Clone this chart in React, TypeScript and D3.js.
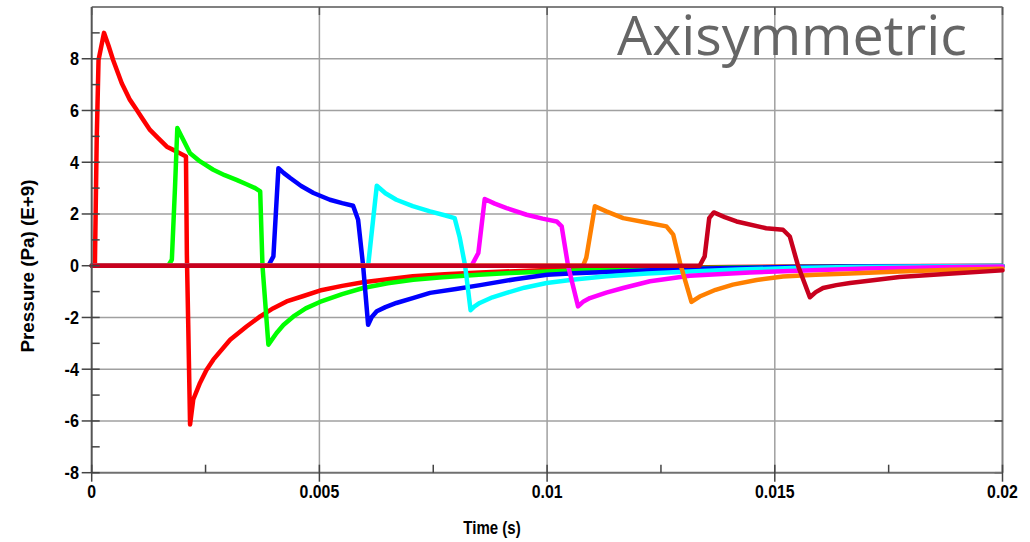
import React from "react";
import * as d3 from "d3";

const W = 1030;
const H = 542;

// Series data: time (s) and pressure (E+9 Pa)
const redT = [0, 0.00007, 0.00011, 0.00015, 0.00027, 0.00037, 0.00047, 0.00066, 0.00084, 0.00099, 0.00113, 0.00128, 0.00146, 0.00165, 0.00187, 0.00207, 0.00209, 0.00212, 0.00216, 0.00223, 0.00238, 0.00252, 0.00267, 0.00304, 0.0034, 0.0037, 0.00399, 0.00428, 0.00465, 0.00501, 0.0055, 0.00596, 0.0065, 0.00705, 0.00775, 0.00853, 0.0093, 0.01, 0.011, 0.012, 0.013, 0.014, 0.0155, 0.017, 0.0185, 0.02];
const redV = [0, 0, 4.86, 7.95, 9.0, 8.5, 7.95, 7.05, 6.41, 6.02, 5.64, 5.25, 4.93, 4.6, 4.41, 4.22, 0.4, -2.3, -6.14, -5.17, -4.52, -4.03, -3.63, -2.86, -2.35, -1.96, -1.64, -1.38, -1.17, -0.96, -0.78, -0.64, -0.52, -0.41, -0.33, -0.26, -0.21, -0.17, -0.13, -0.1, -0.07, -0.05, -0.03, -0.02, -0.015, -0.01];

const greenT = [0, 0.00168, 0.00176, 0.00183, 0.00188, 0.00201, 0.00216, 0.00238, 0.00267, 0.00292, 0.00318, 0.0034, 0.00359, 0.0037, 0.00375, 0.00388, 0.00406, 0.00421, 0.00443, 0.0047, 0.00501, 0.0055, 0.00596, 0.0065, 0.00706, 0.0077, 0.0085, 0.0092, 0.01, 0.011, 0.012, 0.013, 0.014, 0.0155, 0.017, 0.0185, 0.02];
const greenV = [0, 0, 0.23, 3.06, 5.32, 4.87, 4.35, 4.03, 3.71, 3.5, 3.32, 3.15, 3.0, 2.87, 0, -3.05, -2.6, -2.29, -1.96, -1.65, -1.4, -1.1, -0.86, -0.68, -0.54, -0.45, -0.35, -0.28, -0.22, -0.17, -0.13, -0.1, -0.07, -0.05, -0.03, -0.02, -0.01];

const blueT = [0, 0.00388, 0.00399, 0.0041, 0.00422, 0.00436, 0.0046, 0.00487, 0.00523, 0.0055, 0.00574, 0.00585, 0.00596, 0.00607, 0.00615, 0.00626, 0.00645, 0.00669, 0.00705, 0.00743, 0.008, 0.00853, 0.0093, 0.01, 0.0106, 0.0113, 0.012, 0.013, 0.014, 0.0154, 0.0167, 0.018, 0.02];
const blueV = [0, 0, 0.36, 3.77, 3.58, 3.39, 3.08, 2.81, 2.55, 2.42, 2.32, 1.78, 0, -2.28, -1.98, -1.76, -1.6, -1.44, -1.25, -1.05, -0.9, -0.75, -0.52, -0.35, -0.29, -0.24, -0.19, -0.13, -0.09, -0.05, -0.03, -0.02, -0.01];

const cyanT = [0, 0.00607, 0.00626, 0.00645, 0.00669, 0.00705, 0.00743, 0.00775, 0.00797, 0.00808, 0.0082, 0.00832, 0.0084, 0.00852, 0.0088, 0.00911, 0.0095, 0.00999, 0.0106, 0.0113, 0.0122, 0.01313, 0.0142, 0.0154, 0.0167, 0.018, 0.02];
const cyanV = [0, 0, 3.09, 2.8, 2.55, 2.3, 2.1, 1.95, 1.84, 1.1, 0, -1.72, -1.58, -1.44, -1.22, -1.05, -0.85, -0.67, -0.53, -0.41, -0.3, -0.22, -0.15, -0.09, -0.05, -0.03, -0.01];

const magentaT = [0, 0.00834, 0.00849, 0.00863, 0.00885, 0.00911, 0.00955, 0.0099, 0.01021, 0.01032, 0.01046, 0.01068, 0.0108, 0.01094, 0.0113, 0.01167, 0.01226, 0.01313, 0.01445, 0.0155, 0.017, 0.019, 0.02];
const magentaV = [0, 0, 0.49, 2.58, 2.4, 2.23, 1.97, 1.82, 1.71, 1.52, 0, -1.57, -1.38, -1.25, -1.04, -0.86, -0.6, -0.39, -0.26, -0.19, -0.11, -0.05, -0.03];

const orangeT = [0, 0.01079, 0.01086, 0.01105, 0.0113, 0.01167, 0.01218, 0.01262, 0.01277, 0.01292, 0.01317, 0.01335, 0.0137, 0.01408, 0.0146, 0.01518, 0.0159, 0.01665, 0.01774, 0.0189, 0.02];
const orangeV = [0, 0, 0.3, 2.3, 2.1, 1.84, 1.67, 1.52, 1.2, 0.1, -1.4, -1.19, -0.93, -0.73, -0.55, -0.42, -0.35, -0.3, -0.22, -0.16, -0.12];

const darkRedT = [0, 0.01335, 0.01346, 0.01356, 0.01366, 0.0139, 0.01416, 0.01481, 0.01518, 0.01533, 0.01551, 0.01577, 0.0159, 0.01606, 0.01635, 0.01665, 0.0172, 0.01774, 0.0189, 0.02];
const darkRedV = [0, 0, 0.36, 1.84, 2.06, 1.88, 1.71, 1.45, 1.39, 1.13, 0, -1.22, -1.02, -0.86, -0.75, -0.67, -0.55, -0.44, -0.3, -0.18];

const seriesList = [
  { t: redT, v: redV, color: "#ff0000" },
  { t: greenT, v: greenV, color: "#00ff00" },
  { t: blueT, v: blueV, color: "#0000ff" },
  { t: cyanT, v: cyanV, color: "#00ffff" },
  { t: magentaT, v: magentaV, color: "#ff00ff" },
  { t: orangeT, v: orangeV, color: "#ff8000" },
  { t: darkRedT, v: darkRedV, color: "#c8001e" },
];

const xMajor = [0, 0.005, 0.01, 0.015, 0.02];
const xLabels = ["0", "0.005", "0.01", "0.015", "0.02"];
const xMinor = [0.0025, 0.0075, 0.0125, 0.0175];
const yMajor = [-8, -6, -4, -2, 0, 2, 4, 6, 8];
const yMinor = [-7, -5, -3, -1, 1, 3, 5, 7, 9];

const L = 91.7, R = 1002.5, T = 7, B = 472.7;

export default function App() {
  const x = d3.scaleLinear().domain([0, 0.02]).range([L, R]);
  const y = d3.scaleLinear().domain([-8, 10]).range([B, T]);
  const line = d3
    .line<[number, number]>()
    .x((d) => x(d[0]))
    .y((d) => y(d[1]));

  const tickFont = "'Liberation Sans', Arial, sans-serif";

  return (
    <svg
      width={W}
      height={H}
      style={{ position: "absolute", left: 0, top: 0, background: "#fff" }}
    >
      <rect x={0} y={0} width={W} height={H} fill="#fff" />
      {/* gridlines */}
      {yMajor.filter((v) => v > -8).map((v) => (
        <line key={"gy" + v} x1={L} x2={R} y1={y(v)} y2={y(v)} stroke="#a0a0a0" strokeWidth={1.5} />
      ))}
      {xMajor.filter((v) => v > 0 && v < 0.02).map((v) => (
        <line key={"gx" + v} x1={x(v)} x2={x(v)} y1={T} y2={B} stroke="#a0a0a0" strokeWidth={1.5} />
      ))}

      {/* title */}
      <text
        x={617}
        y={55}
        fill="#666"
        fontFamily="'Open Sans', 'Noto Sans', sans-serif"
        fontSize={54}
        textLength={350}
        lengthAdjust="spacingAndGlyphs"
      >
        Axisymmetric
      </text>

      {/* border */}
      <line x1={L} x2={R} y1={T} y2={T} stroke="#808080" strokeWidth={2} />
      <line x1={R} x2={R} y1={T} y2={B} stroke="#808080" strokeWidth={2} />

      {/* inner ticks on right and top */}
      {yMajor.map((v) => (
        <line key={"rt" + v} x1={R - 8} x2={R} y1={y(v)} y2={y(v)} stroke="#333" strokeWidth={1.5} />
      ))}
      {xMajor.map((v) => (
        <line key={"tt" + v} x1={x(v)} x2={x(v)} y1={T} y2={T + 8} stroke="#555" strokeWidth={1.5} />
      ))}

      {/* series */}
      {seriesList.map((s, i) => (
        <path
          key={"s" + i}
          d={line(s.t.map((t, j) => [t, s.v[j]] as [number, number])) || ""}
          fill="none"
          stroke={s.color}
          strokeWidth={4.5}
          strokeLinejoin="round"
          strokeLinecap="round"
        />
      ))}

      {/* axes */}
      <line x1={L} x2={R} y1={B} y2={B} stroke="#707070" strokeWidth={2} />
      <line x1={L} x2={L} y1={T} y2={B} stroke="#555" strokeWidth={2} />

      {yMajor.map((v) => (
        <line key={"yt" + v} x1={L - 10} x2={L + 8} y1={y(v)} y2={y(v)} stroke="#444" strokeWidth={1.5} />
      ))}
      {yMinor.map((v) => (
        <line key={"ym" + v} x1={L} x2={L + 8} y1={y(v)} y2={y(v)} stroke="#444" strokeWidth={1.5} />
      ))}
      {xMajor.map((v) => (
        <line key={"xt" + v} x1={x(v)} x2={x(v)} y1={B - 8} y2={B + 9} stroke="#444" strokeWidth={1.5} />
      ))}
      {xMinor.map((v) => (
        <line key={"xm" + v} x1={x(v)} x2={x(v)} y1={B - 8} y2={B} stroke="#444" strokeWidth={1.5} />
      ))}

      {/* y tick labels */}
      {yMajor.map((v) => (
        <text
          key={"yl" + v}
          transform={`translate(79, ${y(v) + 6.5}) scale(0.9, 1)`}
          textAnchor="end"
          fontFamily={tickFont}
          fontWeight="bold"
          fontSize={18}
          fill="#000"
        >
          {String(v)}
        </text>
      ))}
      {/* x tick labels */}
      {xMajor.map((v, i) => (
        <text
          key={"xl" + v}
          transform={`translate(${x(v)}, 498) scale(0.88, 1)`}
          textAnchor="middle"
          fontFamily={tickFont}
          fontWeight="bold"
          fontSize={18}
          fill="#000"
        >
          {xLabels[i]}
        </text>
      ))}

      {/* axis titles */}
      <text
        transform="translate(492, 534) scale(0.86, 1)"
        textAnchor="middle"
        fontFamily={tickFont}
        fontWeight="bold"
        fontSize={17.5}
        fill="#000"
      >
        Time (s)
      </text>
      <text
        transform="translate(34, 266) rotate(-90)"
        textAnchor="middle"
        fontFamily={tickFont}
        fontWeight="bold"
        fontSize={18}
        textLength={173}
        lengthAdjust="spacingAndGlyphs"
        fill="#000"
      >
        Pressure (Pa) (E+9)
      </text>
    </svg>
  );
}
